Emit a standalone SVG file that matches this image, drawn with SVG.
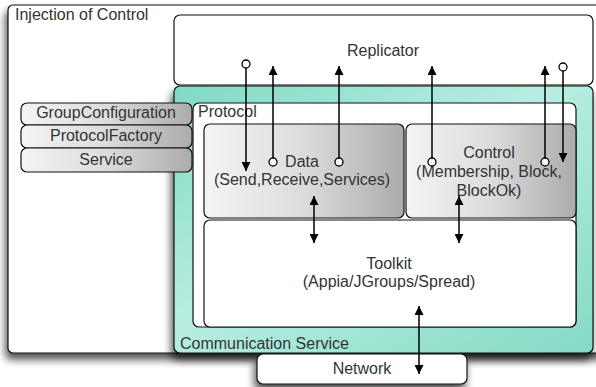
<svg xmlns="http://www.w3.org/2000/svg" width="596" height="387" viewBox="0 0 596 387">
<defs>
<filter id="sh" x="-10%" y="-10%" width="120%" height="130%">
<feGaussianBlur in="SourceAlpha" stdDeviation="4"/>
<feOffset dx="-2" dy="6" result="b"/>
<feComponentTransfer><feFuncA type="linear" slope="0.7"/></feComponentTransfer>
<feMerge><feMergeNode/><feMergeNode in="SourceGraphic"/></feMerge>
</filter>
<linearGradient id="teal" x1="0" y1="0" x2="1" y2="1">
<stop offset="0" stop-color="#80d9c3"/>
<stop offset="0.45" stop-color="#b8eee1"/>
<stop offset="1" stop-color="#84dac5"/>
</linearGradient>
<linearGradient id="gray" x1="0" y1="0" x2="1" y2="0">
<stop offset="0" stop-color="#f4f4f4"/>
<stop offset="0.5" stop-color="#dcdcdc"/>
<stop offset="1" stop-color="#ababab"/>
</linearGradient>
<marker id="ah" viewBox="0 0 10 10" refX="10" refY="5" markerWidth="9" markerHeight="9" markerUnits="userSpaceOnUse" orient="auto-start-reverse">
<path d="M0,0 L10,5 L0,10 z" fill="#000"/>
</marker>
<style>
.t{font-family:"Liberation Sans",Arial,sans-serif;font-size:16px;fill:#333}
.c{text-anchor:middle}
.box{stroke:#111;stroke-width:1.2}
.ln{stroke:#000;stroke-width:1.5;fill:none}
.dot{fill:#fff;stroke:#000;stroke-width:1.3}
</style>
</defs>
<rect width="596" height="387" fill="#fff"/>
<g id="injection">
<rect class="box" x="8" y="5" width="600" height="348" rx="5" fill="#fff" filter="url(#sh)"/>
<text class="t" x="15" y="20">Injection of Control</text>
</g>
<g id="replicator">
<rect class="box" x="174" y="15" width="419" height="70" rx="6" fill="#fff"/>
<text class="t c" x="383" y="56">Replicator</text>
</g>
<g id="communication-service">
<rect class="box" x="174" y="86" width="419" height="267" rx="6" fill="url(#teal)" filter="url(#sh)"/>
<text class="t" x="180" y="349">Communication Service</text>
</g>
<g id="protocol">
<rect class="box" x="193" y="103" width="383" height="224" rx="6" fill="#fff"/>
<text class="t" x="198" y="117">Protocol</text>
</g>
<g id="data">
<rect class="box" x="204" y="124" width="200" height="94" rx="6" fill="url(#gray)"/>
<text class="t c" x="302" y="167">Data</text>
<text class="t c" x="302" y="185">(Send,Receive,Services)</text>
</g>
<g id="control">
<rect class="box" x="406" y="124" width="170" height="94" rx="6" fill="url(#gray)"/>
<text class="t c" x="489" y="158">Control</text>
<text class="t c" x="489" y="177">(Membership, Block,</text>
<text class="t c" x="489" y="196">BlockOk)</text>
</g>
<g id="toolkit">
<rect class="box" x="204" y="220" width="372" height="107" rx="6" fill="#fff"/>
<text class="t c" x="389" y="269">Toolkit</text>
<text class="t c" x="389" y="287">(Appia/JGroups/Spread)</text>
</g>
<g id="group-configuration">
<rect class="box" x="21" y="103" width="171" height="22" rx="6" fill="url(#gray)"/>
<text class="t c" x="106" y="118">GroupConfiguration</text>
</g>
<g id="protocol-factory">
<rect class="box" x="21" y="125" width="171" height="23" rx="6" fill="url(#gray)"/>
<text class="t c" x="106" y="141">ProtocolFactory</text>
</g>
<g id="service">
<rect class="box" x="21" y="148" width="171" height="24" rx="6" fill="url(#gray)"/>
<text class="t c" x="106" y="165">Service</text>
</g>
<g id="network">
<rect class="box" x="257" y="354" width="210" height="30" rx="6" fill="#fff" filter="url(#sh)"/>
<text class="t c" x="362" y="374">Network</text>
</g>
<g id="connectors">
<line class="ln" x1="246" y1="68" x2="246" y2="171" marker-end="url(#ah)"/>
<circle class="dot" cx="246" cy="64" r="4"/>
<line class="ln" x1="273" y1="158" x2="273" y2="66" marker-end="url(#ah)"/>
<circle class="dot" cx="273" cy="162" r="4"/>
<line class="ln" x1="339" y1="158" x2="339" y2="66" marker-end="url(#ah)"/>
<circle class="dot" cx="339" cy="162" r="4"/>
<line class="ln" x1="432" y1="158" x2="432" y2="66" marker-end="url(#ah)"/>
<circle class="dot" cx="432" cy="162" r="4"/>
<line class="ln" x1="545" y1="158" x2="545" y2="66" marker-end="url(#ah)"/>
<circle class="dot" cx="545" cy="162" r="4"/>
<line class="ln" x1="563" y1="71" x2="563" y2="162" marker-end="url(#ah)"/>
<circle class="dot" cx="563" cy="67" r="4"/>
<line class="ln" x1="314" y1="196" x2="314" y2="243" marker-start="url(#ah)" marker-end="url(#ah)"/>
<line class="ln" x1="459" y1="196" x2="459" y2="243" marker-start="url(#ah)" marker-end="url(#ah)"/>
<line class="ln" x1="419" y1="306" x2="419" y2="374" marker-start="url(#ah)" marker-end="url(#ah)"/>
</g>
</svg>
